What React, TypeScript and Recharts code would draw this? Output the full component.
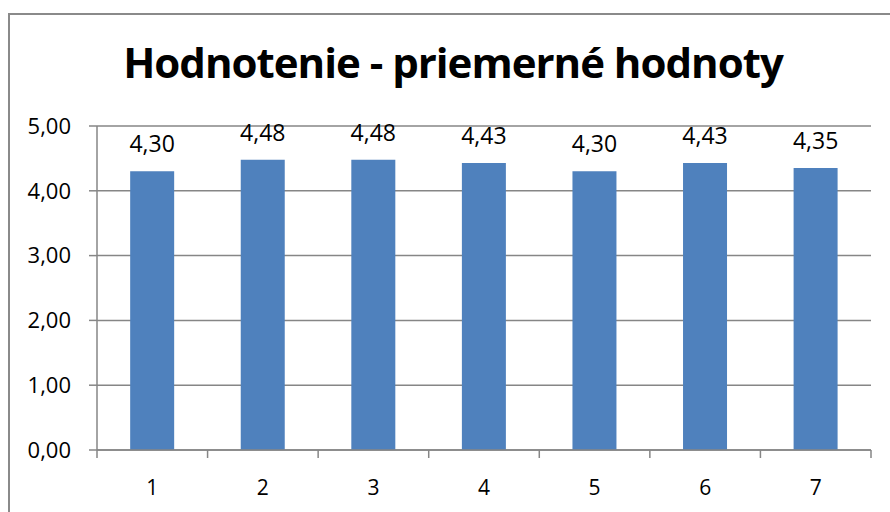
import { Bar, BarChart, CartesianGrid, LabelList, XAxis, YAxis } from "recharts";

const CATEGORIES = ["1", "2", "3", "4", "5", "6", "7"];
const VALUES = [4.3, 4.48, 4.48, 4.43, 4.3, 4.43, 4.35];
const Y_TICKS = [0, 1, 2, 3, 4, 5];

const GRID = "#868686";
const BAR = "#4F81BD";
const FONT = "'Open Sans', sans-serif";
const X_LABEL_GAP = 30;

const data = CATEGORIES.map((c, i) => ({ cat: c, value: VALUES[i] }));
const comma = (v: number) => v.toFixed(2).replace(".", ",");

// category label + tick marks on the band edges (Excel style)
function CatTick(props: any) {
  const { x, y, payload } = props;
  const half = payload?.offset ?? 0;
  const axisY = y - X_LABEL_GAP;
  return (
    <g>
      {payload.index === 0 && (
        <line x1={x - half} x2={x - half} y1={axisY} y2={axisY + 8} stroke={GRID} strokeWidth={1.5} />
      )}
      <line x1={x + half} x2={x + half} y1={axisY} y2={axisY + 8} stroke={GRID} strokeWidth={1.5} />
      <text x={x} y={y} dy="0.71em" textAnchor="middle" fill="#000" fontSize={21} fontFamily={FONT}>
        {payload.value}
      </text>
    </g>
  );
}

export default function App() {
  return (
    <div style={{ position: "relative", width: 890, height: 512, overflow: "hidden", background: "#fff" }}>
      <style>{"body{margin:0}"}</style>
      <div
        style={{
          position: "absolute",
          left: 8,
          top: 13,
          width: 900,
          height: 600,
          border: "2px solid #8a8a8a",
        }}
      />
      <div
        style={{
          position: "absolute",
          left: 8,
          width: 890,
          top: 41,
          lineHeight: 1,
          textAlign: "center",
          fontFamily: FONT,
          fontWeight: 700,
          fontSize: 42,
          letterSpacing: -1,
          color: "#000",
        }}
      >
        Hodnotenie - priemerné hodnoty
      </div>
      <div style={{ position: "absolute", left: 0, top: 0 }}>
        <BarChart
          width={890}
          height={512}
          data={data}
          barCategoryGap="30%"
          margin={{ top: 126, right: 19, bottom: 0, left: 0 }}
        >
          <CartesianGrid stroke={GRID} strokeWidth={1.5} vertical={false} />
          <XAxis
            dataKey="cat"
            height={62}
            axisLine={{ stroke: GRID, strokeWidth: 1.5 }}
            tickLine={false}
            tickSize={0}
            tickMargin={X_LABEL_GAP}
            tick={<CatTick />}
          />
          <YAxis
            domain={[0, 5]}
            ticks={Y_TICKS}
            width={97}
            tickSize={8}
            tickMargin={18}
            tickFormatter={comma}
            axisLine={{ stroke: GRID, strokeWidth: 1.5 }}
            tickLine={{ stroke: GRID, strokeWidth: 1.5 }}
            tick={{ fill: "#000", fontSize: 22, fontFamily: FONT }}
          />
          <Bar dataKey="value" fill={BAR} isAnimationActive={false}>
            <LabelList
              dataKey="value"
              position="top"
              offset={19}
              formatter={(v: any) => comma(Number(v))}
              style={{ fill: "#000", fontSize: 23, fontFamily: FONT }}
            />
          </Bar>
        </BarChart>
      </div>
    </div>
  );
}
